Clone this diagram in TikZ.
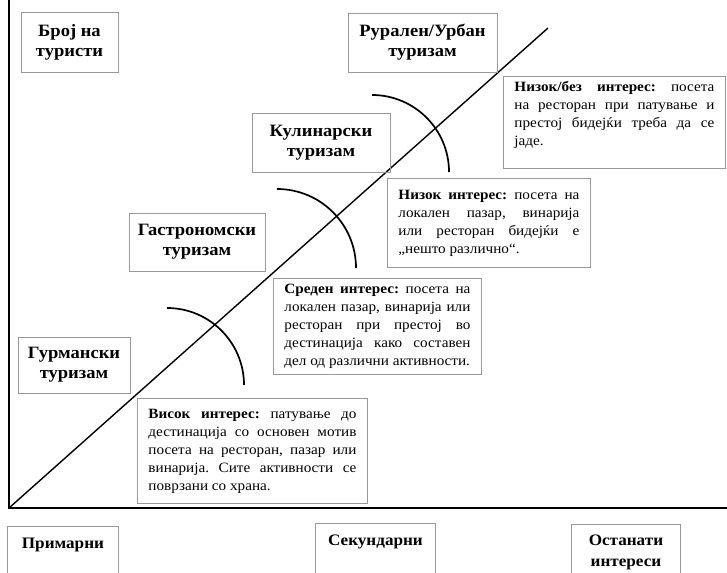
\documentclass[tikz,border=0pt]{standalone}
\usepackage{fontspec}
\setmainfont{Liberation Serif}[FakeStretch=1.07]
\newcommand\nohyph{\hyphenpenalty=10000\relax\exhyphenpenalty=10000\relax\tolerance=9999\relax\frenchspacing}
\begin{document}
\begin{tikzpicture}[x=1pt,y=-1pt,
  box/.style={draw=gray!80, line width=0.9pt, inner sep=0pt, align=center},
  ttl/.style={box, font=\bfseries\fontsize{17.3}{20}\selectfont},
  btl/.style={inner sep=0pt, align=center, font=\bfseries\fontsize{16}{21}\selectfont},
  desc/.style={draw=gray!80, line width=0.9pt, inner xsep=11pt, inner ysep=4pt, align=justify,
    font=\fontsize{14.2}{18}\selectfont\nohyph},
  axisline/.style={line width=2pt, black},
  diag/.style={line width=1.4pt, black},
  arcline/.style={line width=1.7pt, black},
]
\useasboundingbox (0,0) rectangle (727,572);
\clip (0,0) rectangle (727,572);

% axes
\coordinate (ytop) at (9,0);
\coordinate (O) at (9,508);
\coordinate (xend) at (727,508);
\coordinate (dend) at (548,28);
\draw[axisline] (ytop) -- (O) -- (xend);
\draw[diag] (O) -- (dend);

% arcs
\coordinate (a1) at (372,95);
\coordinate (a2) at (277,189);
\coordinate (a3) at (167,308);
\draw[arcline] (a1) arc[start angle=-90, end angle=0, radius=77];
\draw[arcline] (a2) arc[start angle=-90, end angle=0, radius=79];
\draw[arcline] (a3) arc[start angle=-90, end angle=0, radius=77];

% title boxes
\node[ttl, minimum width=97, minimum height=60] (broj) at (69.5,42) {Број на\\туристи};
\node[ttl, minimum width=149, minimum height=59] (rural) at (422.5,42.5) {Рурален/Урбан\\туризам};
\node[ttl, minimum width=138, minimum height=59] (kulin) at (321,142.5) {Кулинарски\\туризам};
\node[ttl, minimum width=136, minimum height=58] (gastro) at (197,242) {Гастрономски\\туризам};
\node[ttl, minimum width=112, minimum height=56] (gurm) at (74,365) {Гурмански\\туризам};

% description boxes
\node[desc, anchor=north west, text width=200, minimum height=92] (nizokbez) at (503,76)
 {\textbf{Низок/без интерес:} посета\linebreak на ресторан при патување и\linebreak престој бидејќи треба да се\linebreak јаде.\par\hbox{}};
\node[desc, anchor=north west, text width=181, minimum height=89] (nizok) at (387,178)
 {\textbf{Низок интерес:} посета на\linebreak локален пазар, винарија\linebreak или ресторан бидејќи е\linebreak „нешто различно“.};
\node[desc, anchor=north west, text width=186, minimum height=96] (sreden) at (273,278)
 {\textbf{Среден интерес:} посета на\linebreak локален пазар, винарија или\linebreak ресторан при престој во\linebreak дестинација како составен\linebreak дел од различни активности.};
\node[desc, anchor=north west, text width=208, minimum height=105] (visok) at (137,398)
 {\textbf{Висок интерес:} патување до\linebreak дестинација со основен мотив\linebreak посета на ресторан, пазар или\linebreak винарија. Сите активности се\linebreak поврзани со храна.};

% bottom boxes
\node[box, anchor=north west, minimum width=111, minimum height=80] (prim) at (7,526) {};
\node[btl] (primt) at ([yshift=-19pt]prim.north) {Примарни};
\node[box, anchor=north west, minimum width=120, minimum height=80] (sek) at (315,523) {};
\node[btl] (sekt) at ([yshift=-19pt]sek.north) {Секундарни};
\node[box, anchor=north west, minimum width=109, minimum height=80] (ost) at (571,524) {};
\node[btl] (ostt) at ([yshift=-28.5pt]ost.north) {Останати\\интереси};
\end{tikzpicture}
\end{document}
